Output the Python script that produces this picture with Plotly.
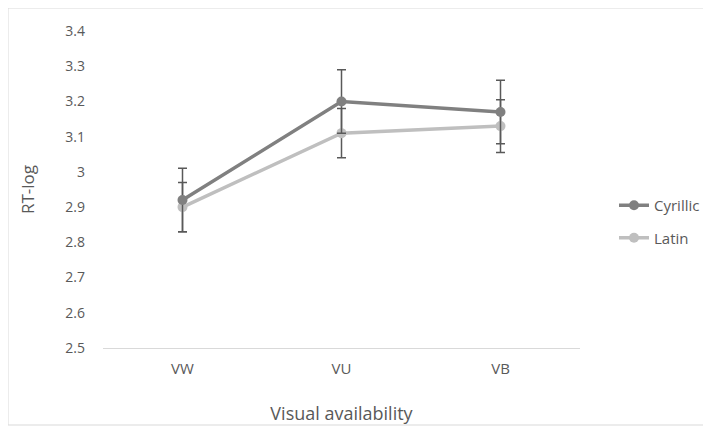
import plotly.graph_objects as go

categories = ["VW", "VU", "VB"]
cyrillic = [2.92, 3.20, 3.17]
cyrillic_err = [0.09, 0.09, 0.09]
latin = [2.90, 3.11, 3.13]
latin_err = [0.07, 0.07, 0.075]
y_ticks = [2.5, 2.6, 2.7, 2.8, 2.9, 3, 3.1, 3.2, 3.3, 3.4]
y_tick_labels = ["2.5", "2.6", "2.7", "2.8", "2.9", "3", "3.1", "3.2", "3.3", "3.4"]

FONT = "Open Sans, sans-serif"
TXT = "#595959"

fig = go.Figure()
fig.add_trace(go.Scatter(
    x=categories, y=latin, name="Latin", mode="lines+markers", legendgroup="b", legendrank=2,
    line=dict(color="#bfbfbf", width=3.5),
    marker=dict(color="#bfbfbf", size=10),
    error_y=dict(type="data", array=latin_err, color="#595959", thickness=1.5, width=4.5),
))
fig.add_trace(go.Scatter(
    x=categories, y=cyrillic, name="Cyrillic", mode="lines+markers", legendgroup="a", legendrank=1,
    line=dict(color="#808080", width=3.5),
    marker=dict(color="#808080", size=10),
    error_y=dict(type="data", array=cyrillic_err, color="#595959", thickness=1.5, width=4.5),
))

OFF = 8  # page body margin
W, H = 711 - OFF, 432 - OFF
L, T = 103 - OFF, 31 - OFF
pw, ph = 477, 317
R, B = W - L - pw, H - T - ph

def px(x):
    return (x - OFF - L) / pw

def py(y):
    return (T + ph - (y - OFF)) / ph

fig.update_layout(
    width=W, height=H,
    margin=dict(l=L, r=R, t=T, b=B, pad=0, autoexpand=False),
    paper_bgcolor="white", plot_bgcolor="white",
    font=dict(family=FONT, size=13, color=TXT),
    showlegend=True,
    legend=dict(x=px(614), y=py(189), xanchor="left", yanchor="top",
                traceorder="grouped", font=dict(size=15, color=TXT),
                itemwidth=30, tracegroupgap=10, bgcolor="rgba(0,0,0,0)"),
    xaxis=dict(range=[-0.5, 2.5], showgrid=False, showline=True, linecolor="#d9d9d9",
               linewidth=1, ticks="", tickfont=dict(size=15, color=TXT), ticklabelstandoff=7,
               automargin=False,
               title=dict(text="Visual availability", font=dict(size=18, color=TXT), standoff=30)),
    yaxis=dict(range=[2.5, 3.4], tickvals=y_ticks, ticktext=y_tick_labels, showgrid=False,
               zeroline=False, showline=False, ticks="", ticklabelstandoff=17,
               tickfont=dict(size=14, color=TXT), automargin=False,
               title=dict(text="RT-log", font=dict(size=17, color=TXT), standoff=26)),
)

fig.add_shape(type="rect", xref="paper", yref="paper",
              x0=px(8), x1=px(705), y0=py(425), y1=py(8),
              line=dict(color="#d9d9d9", width=1), fillcolor="rgba(0,0,0,0)", layer="below")

fig.write_html("out.html")
